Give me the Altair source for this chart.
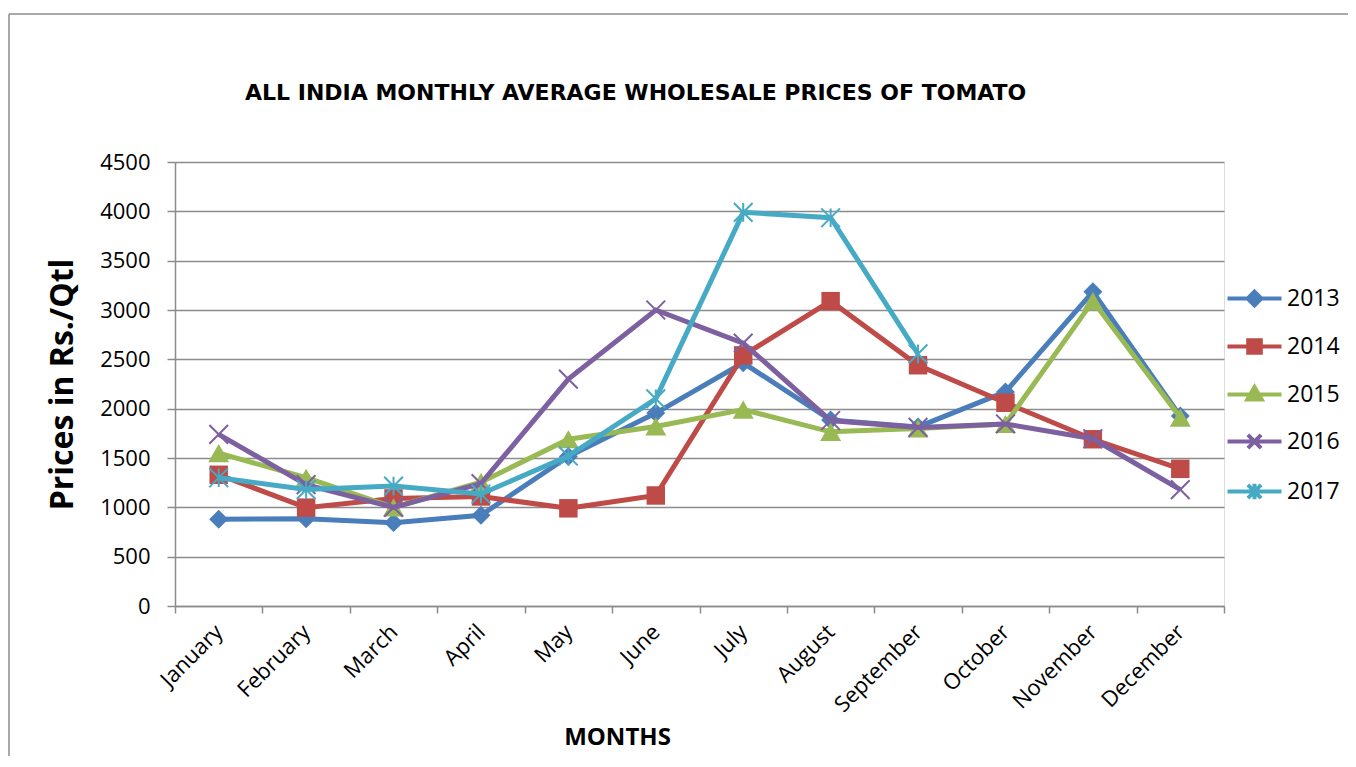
import altair as alt
import pandas as pd

months = ["January", "February", "March", "April", "May", "June", "July",
          "August", "September", "October", "November", "December"]
years = ["2013", "2014", "2015", "2016", "2017"]
p2013 = [880, 885, 845, 920, 1515, 1955, 2465, 1885, 1815, 2170, 3185, 1925]
p2014 = [1330, 997, 1090, 1110, 990, 1120, 2540, 3090, 2440, 2060, 1690, 1390]
p2015 = [1550, 1300, 1000, 1255, 1690, 1820, 1990, 1765, 1800, 1845, 3090, 1910]
p2016 = [1740, 1230, 1000, 1240, 2300, 3000, 2665, 1880, 1810, 1845, 1695, 1180]
p2017 = [1300, 1180, 1215, 1135, 1520, 2100, 3990, 3935, 2555, None, None, None]
series = [p2013, p2014, p2015, p2016, p2017]
title_text = "ALL INDIA MONTHLY AVERAGE WHOLESALE PRICES OF TOMATO"

colors = ["#4A7EBB", "#BE4B48", "#98B954", "#7D60A0", "#46AAC5"]

rows = []
for yr, vals in zip(years, series):
    for m, v in zip(months, vals):
        if v is not None:
            rows.append({"month": m, "year": yr, "price": v})
df = pd.DataFrame(rows)

FONT = "Open Sans"
GRID = "#8c8c8c"

X_PATH = "M-1,-1L1,1M1,-1L-1,1"
STAR_PATH = "M-1,-1L1,1M1,-1L-1,1M0,-1L0,1"
marker_shapes = ["diamond", "square", "triangle-up", X_PATH, STAR_PATH]
marker_filled = [True, True, True, False, False]
marker_sizes = [360, 340, 440, 350, 350]

legend_paths = [
    "M-4.5,0L4.5,0M0,-1.15L1.15,0L0,1.15L-1.15,0Z",
    "M-4.5,0L4.5,0M-1.05,-1.05L1.05,-1.05L1.05,1.05L-1.05,1.05Z",
    "M-4.5,0L4.5,0M0,-1.25L1.2,0.85L-1.2,0.85Z",
    "M-4.5,0L4.5,0M-1.1,-1.1L1.1,1.1M1.1,-1.1L-1.1,1.1",
    "M-4.5,0L4.5,0M-1.1,-1.1L1.1,1.1M1.1,-1.1L-1.1,1.1M0,-1.3L0,1.3",
]

base = alt.Chart(df).encode(
    x=alt.X(
        "month:N",
        sort=months,
        scale=alt.Scale(type="band", domain=months, paddingInner=0, paddingOuter=0),
        axis=alt.Axis(
            title="MONTHS",
            titleFont=FONT, titleFontSize=24, titleFontWeight="bold", titleColor="#000",
            titleX=442, titleY=131, titleBaseline="middle", titleAlign="center",
            labelAngle=-45, labelAlign="right", labelBaseline="middle",
            labelFont=FONT, labelFontSize=22, labelColor="#000", labelPadding=15,
            tickBand="extent", ticks=True, tickSize=7, tickColor=GRID, tickWidth=1.5,
            domainColor=GRID, domainWidth=1.5, grid=False,
        ),
    ),
    y=alt.Y(
        "price:Q",
        scale=alt.Scale(domain=[0, 4500], nice=False),
        axis=alt.Axis(
            title="Prices in Rs./Qtl",
            titleFont=FONT, titleFontSize=32, titleFontWeight="bold", titleColor="#000",
            titleX=-113, titleY=222, titleAngle=-90, titleBaseline="middle", titleAlign="center",
            values=list(range(0, 4501, 500)), format="d",
            labelFont=FONT, labelFontSize=22, labelColor="#000", labelPadding=17,
            tickSize=8, tickColor=GRID, tickWidth=1.5,
            domainColor=GRID, domainWidth=1.5,
            grid=True, gridColor=GRID, gridWidth=1.5,
        ),
    ),
)

layers = []
for yr, c, shp, fil, sz in zip(years, colors, marker_shapes, marker_filled, marker_sizes):
    sub = base.transform_filter(alt.datum.year == yr)
    layers.append(sub.mark_line(color=c, strokeWidth=5))
    if fil:
        layers.append(sub.mark_point(shape=shp, filled=True, color=c, size=sz, opacity=1))
    else:
        layers.append(sub.mark_point(shape=shp, filled=False, color=c, size=sz,
                                     strokeWidth=2, opacity=1))

leg = alt.Legend(
    title=None, orient="none", legendX=1068, legendY=125,
    symbolSize=144, symbolStrokeWidth=4, labelOffset=21,
    labelFont=FONT, labelFontSize=23, labelColor="#000", rowPadding=18,
)
legend_layer = base.transform_filter("false").mark_point(opacity=1, filled=False).encode(
    stroke=alt.Stroke("year:N", scale=alt.Scale(domain=years, range=colors), legend=leg),
    fill=alt.Fill("year:N", scale=alt.Scale(domain=years, range=colors), legend=leg),
    shape=alt.Shape("year:N", scale=alt.Scale(domain=years, range=legend_paths), legend=leg),
)
layers.append(legend_layer)

one = alt.Data(values=[{"t": title_text}])
frame = alt.Chart(one).mark_rule(color="#8c8c8c", strokeWidth=1.5).encode(
    x=alt.value(-166), x2=alt.value(1200), y=alt.value(-148)
)
frame2 = alt.Chart(one).mark_rule(color="#8c8c8c", strokeWidth=1.5).encode(
    x=alt.value(-166), y=alt.value(-148), y2=alt.value(610)
)
title = alt.Chart(one).mark_text(
    font="DejaVu Sans", fontSize=22, fontWeight="bold", color="#000",
    align="left", baseline="middle"
).encode(text="t:N", x=alt.value(70), y=alt.value(-69))

chart = alt.layer(frame, frame2, title, *layers).properties(
    width=1049,
    height=444,
    autosize=alt.AutoSizeParams(type="none"),
    padding={"left": 167, "top": 154, "right": 124, "bottom": 150},
).configure_view(stroke=None).configure(background="white")

chart.save("out.html", embed_options={"renderer": "svg", "actions": False})
